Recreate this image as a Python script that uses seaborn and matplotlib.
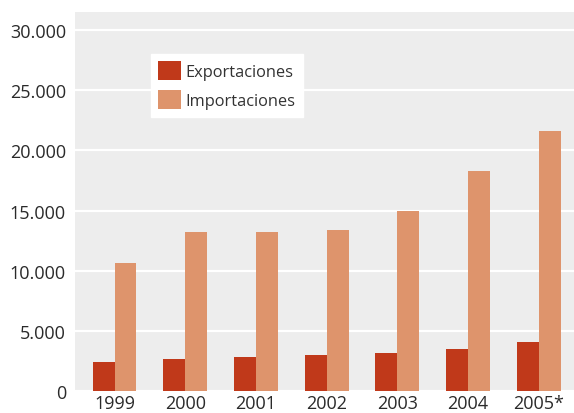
import matplotlib
matplotlib.use("Agg")
import matplotlib.pyplot as plt
import matplotlib.ticker as mticker
import seaborn as sns
import pandas as pd

# Trade values by year
years = ["1999", "2000", "2001", "2002", "2003", "2004", "2005*"]
exportaciones = [2420, 2640, 2810, 2970, 3140, 3470, 4050]
importaciones = [10620, 13200, 13200, 13370, 14950, 18270, 21590]
series_names = ["Exportaciones", "Importaciones"]
y_ticks = [0, 5000, 10000, 15000, 20000, 25000, 30000]

df = pd.DataFrame({
    "year": years * 2,
    "serie": [series_names[0]] * len(years) + [series_names[1]] * len(years),
    "value": exportaciones + importaciones,
})

sns.set_theme(style="darkgrid", rc={
    "axes.facecolor": "#ededed",
    "grid.color": "white",
    "grid.linewidth": 1.6,
})
plt.rcParams["font.family"] = ["Open Sans", "DejaVu Sans"]

fig = plt.figure(figsize=(5.74, 4.14), dpi=100)
ax = fig.add_axes([75 / 574, 22 / 414, 499 / 574, 379 / 414])

palette = {"Exportaciones": "#c0391a", "Importaciones": "#de946c"}
sns.barplot(data=df, x="year", y="value", hue="serie", palette=palette,
            width=0.62, saturation=1, ax=ax, linewidth=0, edgecolor="none")

ax.set_xlim(-0.56, 6.5)
ax.set_ylim(0, 31500)
ax.set_yticks(y_ticks)
ax.yaxis.set_major_formatter(mticker.FuncFormatter(
    lambda v, _: "0" if v == 0 else f"{int(v):,}".replace(",", ".")))
ax.set_xlabel("")
ax.set_ylabel("")
ax.grid(axis="x", visible=False)
ax.tick_params(axis="both", length=0, labelsize=13, labelcolor="#2a2a2a")
ax.tick_params(axis="y", pad=6.5)
ax.tick_params(axis="x", pad=2.5)
for s in ax.spines.values():
    s.set_visible(False)

leg = ax.legend(loc="upper left", bbox_to_anchor=(0.152, 0.889), borderaxespad=0,
                frameon=True, fancybox=False, framealpha=1, edgecolor="white",
                facecolor="white", fontsize=11.8, handlelength=1.4, handleheight=1.4,
                handletextpad=0.28, labelspacing=0.6, borderpad=0.45)
for t in leg.get_texts():
    t.set_color("#333333")

fig.savefig("out.png", dpi=100, facecolor="white")
